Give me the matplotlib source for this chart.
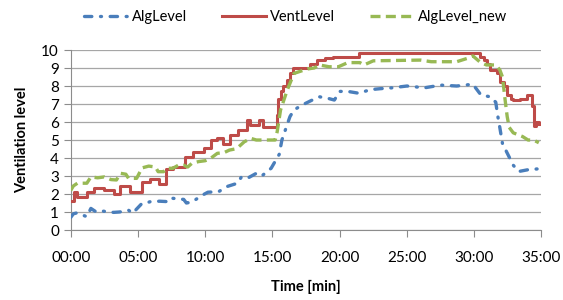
import numpy as np
import matplotlib
matplotlib.use("Agg")
import matplotlib.pyplot as plt
from matplotlib.ticker import FuncFormatter, MultipleLocator

plt.rcParams['font.family'] = ['Lato', 'DejaVu Sans']

# AlgLevel (blue, dash-dot)
alg_t = [0.0, 0.2, 0.45, 1.2, 1.5, 1.9, 2.4, 2.8, 3.2, 3.6, 4.1, 4.3, 4.6, 5.3, 5.6, 5.9,
         6.6, 7.4, 7.6, 8.4, 8.6, 9.0, 9.8, 10.2, 11.0, 11.6, 12.4, 12.7, 13.2, 13.8, 14.2,
         14.9, 15.5, 15.7, 16.0, 16.3, 16.6, 17.2, 17.9, 18.5, 19.2, 19.6, 20.0, 20.6, 21.4,
         22.3, 23.0, 23.9, 25.0, 26.3, 27.5, 28.7, 29.9, 30.5, 31.2, 31.6, 31.75, 31.9, 32.1,
         32.5, 32.9, 33.3, 34.0, 34.8]
alg_v = [0.7, 0.9, 0.95, 0.74, 1.2, 1.0, 1.05, 1.0, 0.98, 1.0, 1.05, 1.1, 0.93, 1.48, 1.5, 1.57,
         1.6, 1.57, 1.76, 1.7, 1.5, 1.55, 1.94, 2.1, 2.13, 2.41, 2.6, 2.96, 2.9, 3.15, 3.0,
         3.43, 4.2, 5.0, 5.65, 6.3, 6.67, 6.94, 7.2, 7.4, 7.3, 7.22, 7.7, 7.7, 7.6,
         7.8, 7.85, 7.9, 8.0, 7.9, 8.05, 8.0, 8.1, 7.5, 7.4, 7.1, 6.33, 5.7, 4.8,
         4.2, 3.6, 3.25, 3.35, 3.4]

# VentLevel (red, step)
vent_t = [0.1, 0.25, 0.5, 1.2, 1.7, 2.5, 3.2, 3.7, 4.4, 5.3, 5.9, 6.6, 7.1, 7.6, 8.5, 9.1,
          9.9, 10.4, 10.85, 11.35, 11.85, 12.45, 13.1, 13.3, 14.0, 14.3, 15.3, 15.4, 15.6,
          15.8, 16.05, 16.3, 16.55, 17.8, 18.3, 18.9, 19.5, 21.4, 30.45, 30.7, 30.95, 31.2,
          31.7, 31.9, 32.2, 32.45, 32.7, 32.9, 33.4, 33.9, 34.3, 34.45, 34.6, 34.8]
vent_v = [1.6, 2.1, 1.85, 2.1, 2.35, 2.2, 2.0, 2.45, 2.1, 2.65, 2.85, 2.55, 3.4, 3.5, 4.05, 4.35,
          4.55, 5.0, 5.1, 4.8, 5.3, 5.55, 6.1, 5.85, 6.1, 5.75, 6.4, 7.3, 7.7,
          8.0, 8.35, 8.7, 9.0, 9.2, 9.44, 9.54, 9.63, 9.85, 9.6, 9.44, 9.2, 8.9,
          8.7, 8.2, 8.0, 7.5, 7.3, 7.2, 7.3, 7.5, 6.9, 5.8, 6.0, 5.9]

# AlgLevel_new (green, dashed)
new_t = [0.0, 0.2, 0.5, 1.2, 1.5, 2.0, 2.5, 3.0, 3.4, 3.7, 4.1, 4.3, 4.9, 5.3, 5.8, 6.3, 6.5,
         6.9, 7.1, 7.6, 8.0, 8.4, 8.7, 9.0, 9.5, 10.0, 10.4, 10.9, 11.4, 11.8, 12.2, 12.5,
         12.9, 13.4, 13.8, 14.5, 15.2, 15.35, 15.6, 16.1, 16.6, 17.0, 17.6, 18.1, 18.5, 19.2,
         19.9, 20.6, 21.5, 21.8, 22.5, 26.0, 26.8, 28.7, 29.5, 29.9, 30.4, 30.9, 31.6, 31.9,
         32.1, 32.3, 32.45, 32.6, 32.9, 33.6, 34.0, 34.4, 34.8]
new_v = [2.2, 2.45, 2.6, 2.6, 2.95, 2.9, 2.95, 2.8, 2.78, 3.15, 3.1, 2.87, 2.87, 3.45, 3.55, 3.5, 3.24,
         3.24, 3.43, 3.43, 3.6, 3.6, 3.5, 3.7, 3.8, 3.85, 3.98, 4.26, 4.3, 4.44, 4.5, 4.63,
         4.9, 5.09, 5.0, 5.0, 5.0, 5.46, 6.67, 7.78, 8.7, 8.8, 8.95, 9.0, 9.17, 9.07,
         9.07, 9.3, 9.3, 9.17, 9.4, 9.44, 9.35, 9.35, 9.54, 9.67, 9.35, 9.17, 9.17, 8.9,
         8.5, 7.2, 6.3, 5.7, 5.4, 5.19, 5.0, 5.0, 4.85]

x_ticks = np.arange(0, 36, 5)

fig = plt.figure(figsize=(5.63, 3.0), dpi=100)
ax = fig.add_axes([0.1256, 0.2333, 0.8362, 0.6])

ax.plot(alg_t, alg_v, color='#4a7ebb', linewidth=2.4, dashes=(2.2, 2.6, 0.3, 2.6),
        dash_capstyle='round', label='AlgLevel', zorder=3)
ax.plot(vent_t, vent_v, color='#be4b48', linewidth=2.2, drawstyle='steps-post',
        label='VentLevel', zorder=4)
ax.plot(new_t, new_v, color='#98b954', linewidth=2.4, dashes=(3, 1.6),
        label='AlgLevel_new', zorder=5)

ax.set_xlim(0, 35)
ax.set_ylim(0, 10)
ax.set_xticks(x_ticks)
ax.xaxis.set_major_formatter(FuncFormatter(lambda v, p: f"{int(v):02d}:00"))
ax.yaxis.set_major_locator(MultipleLocator(1))
ax.grid(axis='y', color='#a6a6a6', linewidth=0.9)
ax.set_axisbelow(True)
for s in ['top', 'right']:
    ax.spines[s].set_visible(False)
for s in ['left', 'bottom']:
    ax.spines[s].set_color('#8c8c8c')
ax.tick_params(axis='both', colors='#8c8c8c', labelcolor='black', labelsize=11,
               length=5, direction='out')
ax.tick_params(axis='x', pad=10)

ax.set_xlabel('Time [min]', fontweight='bold', fontsize=10.5, labelpad=11)
ax.set_ylabel('Ventilation level', fontweight='bold', fontsize=10.5, labelpad=9)

fig.legend(loc='center', bbox_to_anchor=(0.525, 0.943), ncol=3, frameon=False,
           fontsize=10.5, handlelength=3.0, handletextpad=0.3, columnspacing=2.4)

fig.savefig('out.png', dpi=100)
